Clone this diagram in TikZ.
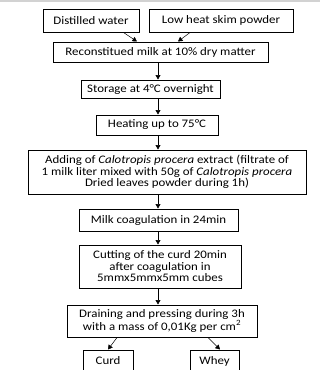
\documentclass[tikz,border=0pt]{standalone}
\usepackage{fontspec}
\setmainfont{Carlito}[FakeStretch=1.12]
\usetikzlibrary{positioning,arrows.meta}
\begin{document}
\begin{tikzpicture}[x=1pt,y=1pt,>={Triangle[length=4.5pt,width=5pt]},
  font=\fontsize{11.5}{11.5}\selectfont,
  stepbox/.style={draw,line width=1pt,inner sep=1pt,align=center},
  link/.style={->,line width=0.5pt}]
  \useasboundingbox (0,0) rectangle (320,-370);
  \clip (0,0) rectangle (320,-370);
  \draw[gray!35,line width=2pt] (0,-1) -- (320,-1);
  \coordinate (mid) at (158,0);
  % raw materials
  \node[stepbox,minimum width=96,minimum height=23] (water) at (91,-20.5) {Distilled water};
  \node[stepbox,minimum width=144,minimum height=23] (powder) at (221,-20.5) {Low heat skim powder};
  \node[stepbox,minimum width=215,minimum height=20] (recon) at (160.5,-52) {Reconstitued milk at 10\% dry matter};
  \draw[link] ([xshift=-16]water.south east) -- ([xshift=-23.5]recon.north);
  \draw[link] ([xshift=-31]powder.south) -- ([xshift=17.5]recon.north);
  % process steps
  \node[stepbox,minimum width=139,minimum height=18] (store) at (150.5,-89) {Storage at 4°C overnight};
  \node[stepbox,minimum width=122,minimum height=20] (heat) at (157,-125) {Heating up to 75°C};
  \node[stepbox,minimum width=278,minimum height=44] (add) at (167,-172)
    {Adding of \textit{Calotropis procera} extract (filtrate of\\
     1 milk liter mixed with 50g of \textit{Calotropis procera}\\
     Dried leaves powder during 1h)};
  \node[stepbox,minimum width=159,minimum height=22] (coag) at (158.5,-220) {Milk coagulation in 24min};
  \node[stepbox,minimum width=162,minimum height=43] (cut) at (160,-266.5)
    {Cutting of the curd 20min\\ after coagulation in\\ 5mmx5mmx5mm cubes};
  \node[stepbox,minimum width=190,minimum height=32] (drain) at (162,-321)
    {Draining and pressing during 3h\\ with a mass of 0,01Kg per cm\textsuperscript{2}};
  \draw[link] (recon.south -| mid) -- (store.north -| mid);
  \draw[link] (store.south -| mid) -- (heat.north -| mid);
  \draw[link] (heat.south -| mid) -- (add.north -| mid);
  \draw[link] (add.south -| mid) -- (coag.north -| mid);
  \draw[link] (coag.south -| mid) -- (cut.north -| mid);
  \draw[link] (cut.south -| mid) -- (drain.north -| mid);
  % products
  \node[stepbox,minimum width=50,minimum height=22] (curd) at (108,-361) {Curd};
  \node[stepbox,minimum width=49,minimum height=22] (whey) at (214.5,-361) {Whey};
  \draw[link] ([xshift=-45]drain.south) -- (curd.north);
  \draw[link] ([xshift=46]drain.south) -- ([xshift=5.5]whey.north);
\end{tikzpicture}
\end{document}
